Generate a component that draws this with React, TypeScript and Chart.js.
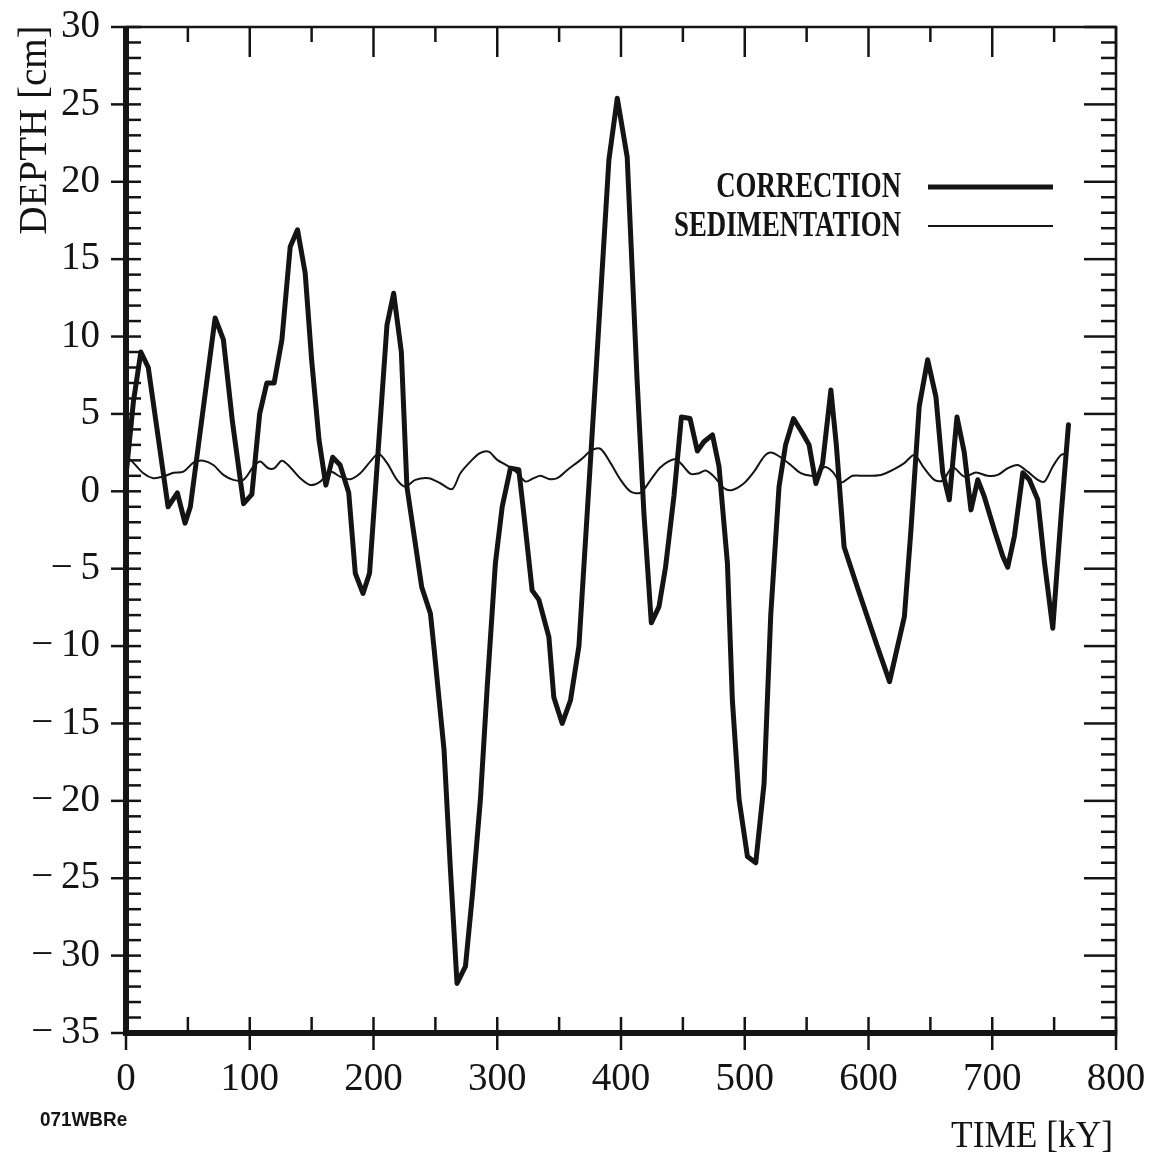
import React, { useEffect, useRef } from "react";
import { Chart, registerables } from "chart.js";

Chart.register(...registerables);

// ---------- data ----------
const correctionTime = [
  0, 6, 12, 18, 34, 41.5, 47.7, 52, 72, 78.7, 86, 95, 101.7, 108, 113.8, 119.7,
  126, 132.7, 138.6, 144.8, 150, 156, 161.5, 167, 173, 180, 185.3, 191.5, 196.8,
  210.9, 216.3, 222.5, 227, 239, 246, 249, 257, 262, 267.5, 274.3, 280, 286.4,
  292, 298.5, 304, 310.7, 317.4, 321.4, 328.2, 333.6, 341.7, 345.7, 352.5, 359.2,
  366, 379.4, 390.2, 397, 405, 413, 418.5, 424.5, 430.7, 436, 442.8, 448.8, 455.8,
  461.7, 467, 473.9, 479.2, 486, 490, 495.4, 502.2, 508.9, 515.6, 521, 527.7, 533,
  539.4, 546.7, 552, 557.5, 562.9, 569.6, 574, 580.3, 591, 607, 617, 629, 634.3,
  641, 647.8, 654.5, 660, 665.3, 671.5, 677.4, 682.8, 688.3, 693.6, 701.7, 708.5,
  712.5, 717.9, 724.7, 730, 736.8, 742.2, 748.9, 755.6, 761.6,
];
const correctionDepth = [
  1.0, 5.8, 9.0, 8.0, -1.0, -0.1, -2.06, -1.0, 11.2, 9.8, 4.5, -0.8, -0.2, 5.0, 7.0, 7.0,
  9.8, 15.8, 16.9, 14.1, 8.5, 3.3, 0.4, 2.2, 1.7, -0.1, -5.3, -6.6, -5.3,
  10.75, 12.8, 9.0, 0.3, -6.2, -7.9, -10.2, -16.7, -24.2, -31.8, -30.7, -26.0, -19.9,
  -12.5, -4.65, -1.0, 1.5, 1.4, -1.4, -6.4, -7.0, -9.4, -13.3, -15.0, -13.5,
  -10.0, 7.2, 21.4, 25.4, 21.6, 7.2, -1.4, -8.5, -7.45, -4.9, -0.3, 4.8, 4.7,
  2.6, 3.2, 3.65, 1.6, -4.65, -13.5, -19.9, -23.6, -24.0, -18.9, -8.0, 0.3, 3.0,
  4.7, 3.75, 3.0, 0.5, 1.8, 6.55, 3.0, -3.6, -6.2, -10.0, -12.3, -8.1, -2.5,
  5.5, 8.5, 6.1, 1.2, -0.55, 4.8, 2.5, -1.2, 0.75, -0.35, -2.5, -4.2,
  -4.9, -2.9, 1.2, 0.75, -0.55, -4.6, -8.85, -1.6, 4.3,
];

const sedimentationTime = [
  0, 4.6, 14, 22, 30, 38.3, 46.4, 54.5, 62.5, 70.6, 78.7, 86.8, 94.9, 103, 108.4,
  115, 120, 126, 132.7, 140.8, 148.9, 157, 165, 173, 181.2, 189.3, 197.4, 204, 211,
  219, 225.7, 233.8, 244.6, 254, 263.5, 270.2, 278.3, 286, 293, 300, 309.3, 316,
  322.8, 329.5, 335, 341.7, 348.5, 356.6, 367.3, 376.8, 383.5, 391.6, 399.7, 407.8,
  415.9, 424, 432, 442.8, 448.2, 456.3, 463, 468.4, 475.2, 483.3, 490, 499.4, 507.5,
  515.6, 521, 529, 537.2, 545.3, 553.4, 558.8, 564.2, 571, 577.7, 587.1, 596.5, 610,
  620.8, 628.9, 637, 645, 653.2, 660, 668, 677.4, 686.9, 696.3, 704.4, 712.5, 720.6,
  728.6, 736.8, 742.2, 748.9, 755.6, 761,
];
const sedimentationDepth = [
  2.2, 1.95, 1.17, 0.85, 0.95, 1.2, 1.27, 1.85, 1.98, 1.7, 1.06, 0.74, 0.74, 1.6, 1.92,
  1.49, 1.5, 1.98, 1.56, 0.85, 0.41, 0.63, 1.27, 0.95, 0.78, 1.17, 1.92, 2.42, 1.82,
  0.74, 0.3, 0.74, 0.85, 0.52, 0.14, 1.17, 1.92, 2.46, 2.56, 2.03, 1.6, 1.2,
  0.63, 0.85, 1.0, 0.8, 0.85, 1.38, 2.03, 2.67, 2.74, 1.82, 0.74, -0.02,
  -0.08, 0.74, 1.56, 2.07, 1.82, 1.12, 1.17, 1.34, 0.95, 0.2, 0.09, 0.52, 1.27,
  2.24, 2.5, 2.2, 1.7, 1.17, 1.0, 1.06, 1.56, 1.27, 0.56, 1.0, 1.0, 1.06,
  1.43, 1.82, 2.35, 1.49, 0.74, 0.69, 1.56, 0.95, 1.21, 1.0, 1.06, 1.49, 1.7,
  1.27, 0.74, 0.63, 1.6, 2.35, 2.42,
];

const seriesLabels = ["CORRECTION", "SEDIMENTATION"];
const xTicks = [0, 100, 200, 300, 400, 500, 600, 700, 800];
const yTicks = [30, 25, 20, 15, 10, 5, 0, -5, -10, -15, -20, -25, -30, -35];
const yTitle = "DEPTH [cm]";
const xTitle = "TIME [kY]";
const plotCode = "071WBRe";

const INK = "#141414";
const SERIF = "'Liberation Serif', 'DejaVu Serif', serif";

const framePlugin = {
  id: "frame",
  afterDraw(chart: any) {
    const { ctx, chartArea, scales } = chart;
    const { left, right, top, bottom } = chartArea;
    const x = scales.x;
    const y = scales.y;
    const line = (x1: number, y1: number, x2: number, y2: number) => {
      ctx.beginPath();
      ctx.moveTo(x1, y1);
      ctx.lineTo(x2, y2);
      ctx.stroke();
    };
    ctx.save();
    ctx.strokeStyle = INK;
    ctx.fillStyle = INK;
    ctx.lineCap = "butt";

    // thin top and right frame
    ctx.lineWidth = 2.5;
    line(left, top, right + 1.25, top);
    line(right, top, right, bottom);

    // y ticks (every 1, major every 5)
    for (let v = -35; v <= 30; v++) {
      const py = y.getPixelForValue(v);
      const major = v % 5 === 0;
      ctx.lineWidth = 2.5;
      line(left, py, left + 15, py);
      if (major) line(left - 15, py, left, py);
      line(right - (major ? 32 : 15), py, right, py);
    }
    // x ticks (every 50, major every 100)
    for (let v = 0; v <= 800; v += 50) {
      const px = x.getPixelForValue(v);
      const major = v % 100 === 0;
      ctx.lineWidth = 2.5;
      line(px, top, px, top + (major ? 30 : 15));
      line(px, bottom - 16, px, bottom + (major ? 17 : 0));
    }

    // thick left and bottom axes
    ctx.lineWidth = 6;
    line(left, top - 1, left, bottom + 3);
    line(left - 3, bottom, right + 1.25, bottom);

    // legend
    const dsets = chart.data.datasets;
    const legendY = [187, 226];
    dsets.forEach((ds: any, i: number) => {
      ctx.save();
      ctx.translate(901, legendY[i]);
      ctx.scale(0.745, 1);
      ctx.font = `bold 36px ${SERIF}`;
      ctx.textAlign = "right";
      ctx.textBaseline = "middle";
      ctx.fillText(ds.label, 0, 1);
      ctx.restore();
      ctx.lineWidth = ds.borderWidth;
      line(928, legendY[i], 1053, legendY[i]);
    });

    // y title (rotated)
    ctx.save();
    ctx.translate(36, 130);
    ctx.rotate(-Math.PI / 2);
    ctx.font = `39px ${SERIF}`;
    ctx.textAlign = "center";
    ctx.textBaseline = "middle";
    ctx.fillText(yTitle, 0, 0);
    ctx.restore();

    // x title
    ctx.save();
    ctx.translate(1113, 1137);
    ctx.scale(0.93, 1);
    ctx.font = `38px ${SERIF}`;
    ctx.textAlign = "right";
    ctx.textBaseline = "middle";
    ctx.fillText(xTitle, 0, 0);
    ctx.restore();

    // plot code
    ctx.save();
    ctx.translate(40, 1120);
    ctx.scale(0.9, 1);
    ctx.font = "bold 21px 'Liberation Sans', Arial, sans-serif";
    ctx.textAlign = "left";
    ctx.textBaseline = "middle";
    ctx.fillText(plotCode, 0, 0);
    ctx.restore();

    ctx.restore();
  },
};

const zeroPad = (s: any) => {
  s.paddingTop = 0;
  s.paddingBottom = 0;
  s.paddingLeft = 0;
  s.paddingRight = 0;
};

export default function App() {
  const canvasRef = useRef<HTMLCanvasElement | null>(null);

  useEffect(() => {
    if (!canvasRef.current) return;
    const chart = new Chart(canvasRef.current, {
      type: "line",
      data: {
        datasets: [
          {
            label: seriesLabels[0],
            data: correctionTime.map((t, i) => ({ x: t, y: correctionDepth[i] })),
            borderColor: INK,
            borderWidth: 5,
            pointRadius: 0,
            tension: 0,
            borderJoinStyle: "round",
            borderCapStyle: "round",
            fill: false,
          },
          {
            label: seriesLabels[1],
            data: sedimentationTime.map((t, i) => ({ x: t, y: sedimentationDepth[i] })),
            borderColor: INK,
            borderWidth: 2,
            pointRadius: 0,
            tension: 0.3,
            fill: false,
          },
        ],
      },
      options: {
        responsive: false,
        animation: false,
        events: [],
        layout: { padding: { left: 0, right: 37, top: 27, bottom: 0 } },
        plugins: { legend: { display: false }, tooltip: { enabled: false } },
        scales: {
          x: {
            type: "linear",
            min: 0,
            max: 800,
            grid: { display: false, drawTicks: false },
            border: { display: false },
            afterFit: (s: any) => {
              s.height = 126;
              zeroPad(s);
            },
            afterBuildTicks: (s: any) => {
              s.ticks = xTicks.map((v) => ({ value: v }));
            },
            ticks: {
              autoSkip: false,
              maxRotation: 0,
              padding: 23,
              color: INK,
              font: { family: SERIF, size: 39 },
              callback: (v: any) => String(v),
            },
          },
          y: {
            type: "linear",
            min: -35,
            max: 30,
            grid: { display: false, drawTicks: false },
            border: { display: false },
            afterFit: (s: any) => {
              s.width = 126;
              zeroPad(s);
            },
            afterBuildTicks: (s: any) => {
              s.ticks = yTicks.map((v) => ({ value: v }));
            },
            ticks: {
              autoSkip: false,
              padding: 26,
              color: INK,
              font: { family: SERIF, size: 39 },
              callback: (v: any) =>
                Number(v) < 0 ? "\u2212\u2009" + Math.abs(Number(v)) : String(v),
            },
          },
        },
      },
      plugins: [framePlugin],
    });
    return () => chart.destroy();
  }, []);

  return (
    <div
      style={{
        position: "absolute",
        left: 0,
        top: 0,
        width: 1153,
        height: 1159,
        background: "#ffffff",
      }}
    >
      <canvas ref={canvasRef} width={1153} height={1159} style={{ width: 1153, height: 1159, display: "block" }} />
    </div>
  );
}
